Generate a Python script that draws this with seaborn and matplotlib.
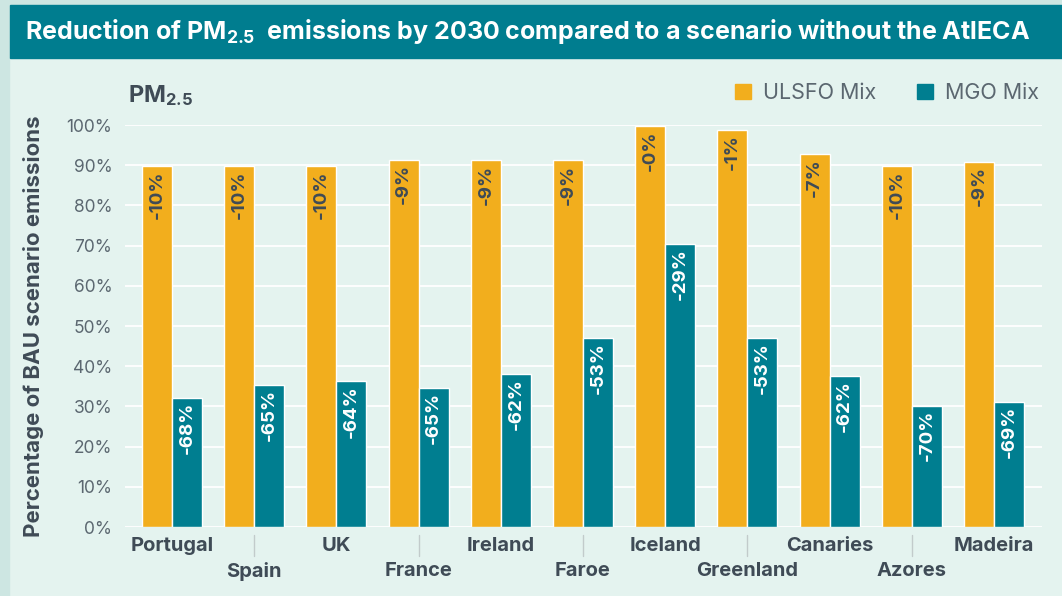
import matplotlib
matplotlib.use("Agg")
import matplotlib.pyplot as plt
import matplotlib.patches as mpatches
import matplotlib.transforms as mtransforms
import pandas as pd
import seaborn as sns

# --- DATA ---
countries = ["Portugal", "Spain", "UK", "France", "Ireland", "Faroe",
             "Iceland", "Greenland", "Canaries", "Azores", "Madeira"]
ulsfo = [89.8, 89.8, 89.8, 91.4, 91.2, 91.2, 99.7, 98.8, 92.8, 89.8, 90.8]
mgo = [32.1, 35.3, 36.3, 34.6, 38.1, 47.0, 70.4, 47.0, 37.6, 30.1, 31.1]
ulsfo_labels = ["-10%", "-10%", "-10%", "-9%", "-9%", "-9%",
                "-0%", "-1%", "-7%", "-10%", "-9%"]
mgo_labels = ["-68%", "-65%", "-64%", "-65%", "-62%", "-53%",
              "-29%", "-53%", "-62%", "-70%", "-69%"]
series = ["ULSFO Mix", "MGO Mix"]
yticks = list(range(0, 101, 10))

# --- STYLE ---
ORANGE = "#f2ae1d"
TEAL = "#007e90"
BANNER = "#007d8f"
BG = "#e4f3ef"
STRIP = "#cde6e2"
DARK = "#3f4b56"
GREY = "#5b6770"
FONT = "Inter"

sns.set_theme(style="white")
plt.rcParams["font.family"] = [FONT, "DejaVu Sans"]
plt.rcParams["mathtext.fontset"] = "custom"
plt.rcParams["mathtext.rm"] = f"{FONT}:bold"
plt.rcParams["mathtext.it"] = f"{FONT}:bold"
plt.rcParams["mathtext.bf"] = f"{FONT}:bold"

df = pd.DataFrame({
    "country": countries * 2,
    "value": ulsfo + mgo,
    "fuel": [series[0]] * len(countries) + [series[1]] * len(countries),
})

W, H = 1062, 596
fig = plt.figure(figsize=(W / 100, H / 100), dpi=100, facecolor=BG)

# background decorations: left strip, top strip, title banner
fig.patches.append(mpatches.Rectangle((0, 0), 9 / W, 1, transform=fig.transFigure,
                                      color=STRIP, zorder=0))
fig.patches.append(mpatches.Rectangle((0, 1 - 5 / H), 1, 5 / H, transform=fig.transFigure,
                                      color=STRIP, zorder=0))
fig.patches.append(mpatches.Rectangle((10 / W, 1 - 58 / H), 1, 53 / H,
                                      transform=fig.transFigure, color=BANNER, zorder=0))

ax = fig.add_axes([125 / W, 1 - 527 / H, 917 / W, 402 / H])
ax.set_facecolor(BG)

sns.barplot(data=df, x="country", y="value", hue="fuel",
            palette=[ORANGE, TEAL], width=0.73, gap=0, saturation=1,
            legend=False, ax=ax)

ax.set_ylim(0, 100)
ax.set_xlim(-0.572, 10.584)
ax.set_yticks(yticks, labels=[f"{t}%" for t in yticks])
ax.set_axisbelow(True)
ax.grid(axis="y", color="white", lw=1.3)
ax.grid(axis="x", visible=False)
sns.despine(ax=ax, left=True, bottom=True)
ax.set_xlabel("")

ax.tick_params(axis="y", length=0, pad=9, labelsize=12.5, labelcolor=GREY)
ax.tick_params(axis="x", length=0, labelsize=14.5, labelcolor=DARK)
for lab in ax.get_xticklabels():
    lab.set_fontweight("bold")
for i, tick in enumerate(ax.xaxis.get_major_ticks()):
    tick.set_pad(7 if i % 2 == 0 else 25)

# separators between staggered labels
trans = mtransforms.blended_transform_factory(ax.transData, ax.transAxes)
for i in range(1, len(countries), 2):
    ax.plot([i, i], [-0.02, -0.072], transform=trans, clip_on=False,
            color="#c2cbcb", lw=1)

# value labels inside bars
for container, labels, col in zip(ax.containers, [ulsfo_labels, mgo_labels], [DARK, "white"]):
    for bar, lab in zip(container, labels):
        ax.text(bar.get_x() + bar.get_width() / 2, bar.get_height() - 1, lab,
                rotation=90, ha="center", va="top", fontsize=13.5,
                fontweight="bold", color=col)

ax.set_ylabel("Percentage of BAU scenario emissions", fontsize=16,
              fontweight="bold", color=DARK)
ax.yaxis.set_label_coords(-0.088, 0.5)

handles = [mpatches.Patch(color=ORANGE, label=series[0]),
           mpatches.Patch(color=TEAL, label=series[1])]
fig.legend(handles=handles, ncol=2, frameon=False, loc="center right",
           bbox_to_anchor=(1039 / W, 1 - 93 / H), borderaxespad=0, borderpad=0,
           handlelength=0.75, handleheight=0.75, handletextpad=0.55,
           columnspacing=1.9, fontsize=15.5, labelcolor=GREY)

fig.text(25 / W, 1 - 39.5 / H,
         "Reduction of PM$_{2.5}$  emissions by 2030 compared to a scenario without the AtlECA",
         color="white", fontsize=18, fontweight="bold", va="baseline", ha="left")
fig.text(128 / W, 1 - 102 / H, "PM$_{2.5}$", color=DARK, fontsize=17,
         fontweight="bold", va="baseline", ha="left")

fig.savefig("out.png", dpi=100, facecolor=BG)
